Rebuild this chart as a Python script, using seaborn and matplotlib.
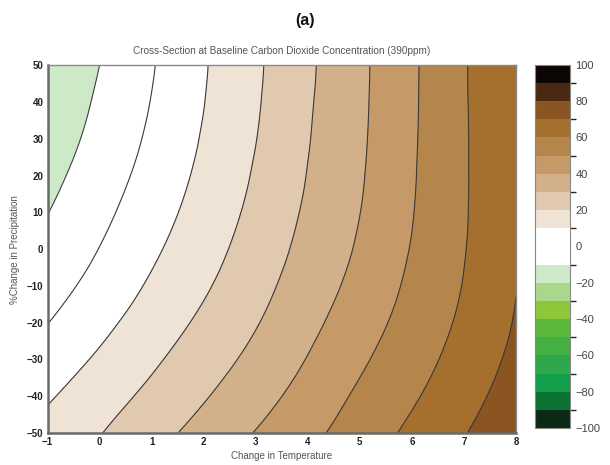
import numpy as np
import matplotlib
matplotlib.use("Agg")
import matplotlib.pyplot as plt
import matplotlib.tri as mtri
from matplotlib.colors import ListedColormap, BoundaryNorm
import seaborn as sns

# ---- data ----
temperature = [-1, 0, 1, 2, 3, 4, 5, 6, 7, 8]
precipitation = [-50, -40, -30, -20, -10, 0, 10, 20, 30, 40, 50]
# rows follow precipitation, columns follow temperature
row_m50 = [13.3, 19.6, 26.5, 33.4, 40.4, 47.4, 54.8, 62.0, 69.5, 76.9]
row_m40 = [8.9, 15.6, 22.3, 29.2, 36.3, 43.8, 51.6, 58.8, 66.5, 74.4]
row_m30 = [4.4, 11.4, 18.4, 25.4, 32.6, 40.4, 48.5, 56.0, 63.9, 72.3]
row_m20 = [-0.2, 7.3, 14.7, 21.9, 29.4, 37.4, 45.6, 53.7, 61.8, 70.7]
row_m10 = [-4.0, 3.4, 11.3, 18.8, 26.7, 34.9, 43.1, 51.9, 60.4, 69.8]
row_p00 = [-7.3, 0.2, 8.3, 16.2, 24.4, 32.9, 41.2, 50.5, 59.6, 69.4]
row_p10 = [-10.2, -2.5, 5.7, 14.0, 22.5, 31.4, 39.9, 49.6, 59.2, 69.2]
row_p20 = [-12.8, -4.9, 3.5, 12.2, 21.0, 30.3, 39.1, 49.1, 59.1, 69.1]
row_p30 = [-15.1, -7.0, 1.7, 10.8, 19.8, 29.5, 38.6, 48.8, 59.1, 69.0]
row_p40 = [-17.1, -8.6, 0.3, 9.8, 19.0, 28.9, 38.3, 48.6, 59.2, 69.0]
row_p50 = [-18.8, -10.0, -0.7, 9.2, 18.5, 28.4, 38.1, 48.5, 59.3, 69.0]

levels = list(range(-100, 101, 10))
cbar_ticks = list(range(-100, 101, 20))
bin_colors = [
    "#0b2a15", "#0a7232", "#12a04c", "#2ea84a", "#44b044",
    "#5cb83c", "#8cc83a", "#aad88a", "#cde9c8", "#ffffff",
    "#ffffff", "#efe3d6", "#e0c9ae", "#d2b08a", "#c59a68",
    "#b5864c", "#a5702e", "#8a5520", "#4a2812", "#0c0604",
]

title_main = "(a)"
title_sub = "Cross-Section at Baseline Carbon Dioxide Concentration (390ppm)"
xlabel = "Change in Temperature"
ylabel = "%Change in Precipitation"

# ---- build ----
Z = np.array([row_m50, row_m40, row_m30, row_m20, row_m10, row_p00,
              row_p10, row_p20, row_p30, row_p40, row_p50])
TT, PP = np.meshgrid(temperature, precipitation)

sns.set_theme(style="white")
plt.rcParams["font.family"] = ["Liberation Sans", "DejaVu Sans"]
plt.rcParams["contour.negative_linestyle"] = "solid"

fig = plt.figure(figsize=(6.1, 4.65), dpi=100)
ax = fig.add_axes([0.0779, 0.0688, 0.768, 0.791])
cax = fig.add_axes([0.877, 0.0796, 0.0574, 0.781])

tri = mtri.Triangulation(TT.ravel(), PP.ravel())
interp = mtri.CubicTriInterpolator(tri, Z.ravel(), kind="min_E")
refiner = mtri.UniformTriRefiner(tri)
tri_f, z_f = refiner.refine_field(Z.ravel(), triinterpolator=interp, subdiv=3)

cmap = ListedColormap(bin_colors)
norm = BoundaryNorm(levels, cmap.N)
cf = ax.tricontourf(tri_f, z_f, levels=levels, cmap=cmap, norm=norm)
ax.tricontour(tri_f, z_f, levels=levels, colors="#3a3a3a", linewidths=0.8,
              linestyles="solid")

ax.set_xlim(-1, 8)
ax.set_ylim(-50, 50)
ax.set_xticks(temperature)
ax.set_yticks(precipitation)
ax.tick_params(direction="in", length=3, width=0.8, top=True, right=True,
               labelsize=7, colors="#222222", pad=3)
for lab in ax.get_xticklabels() + ax.get_yticklabels():
    lab.set_fontweight("bold")
for side in ["left", "bottom"]:
    ax.spines[side].set_color("#6a6a6a")
    ax.spines[side].set_linewidth(1.8)
for side in ["top", "right"]:
    ax.spines[side].set_color("#8a8a8a")
    ax.spines[side].set_linewidth(1.0)

ax.set_title(title_sub, fontsize=7.2, color="#555555", pad=8)
ax.set_xlabel(xlabel, fontsize=7, color="#555555", labelpad=3)
ax.set_ylabel(ylabel, fontsize=7, color="#555555", labelpad=5)
fig.text(0.5, 1 - 20 / 465, title_main, ha="center", va="center",
         fontsize=11.5, fontweight="bold", color="#111111")

cb = fig.colorbar(cf, cax=cax, ticks=cbar_ticks)
cb.outline.set_edgecolor("#888888")
cb.outline.set_linewidth(0.8)
cax.tick_params(direction="in", length=3, width=0.6, left=True, right=True,
                labelsize=8, colors="#444444", pad=4)

fig.savefig("out.png", dpi=100, facecolor="white")
